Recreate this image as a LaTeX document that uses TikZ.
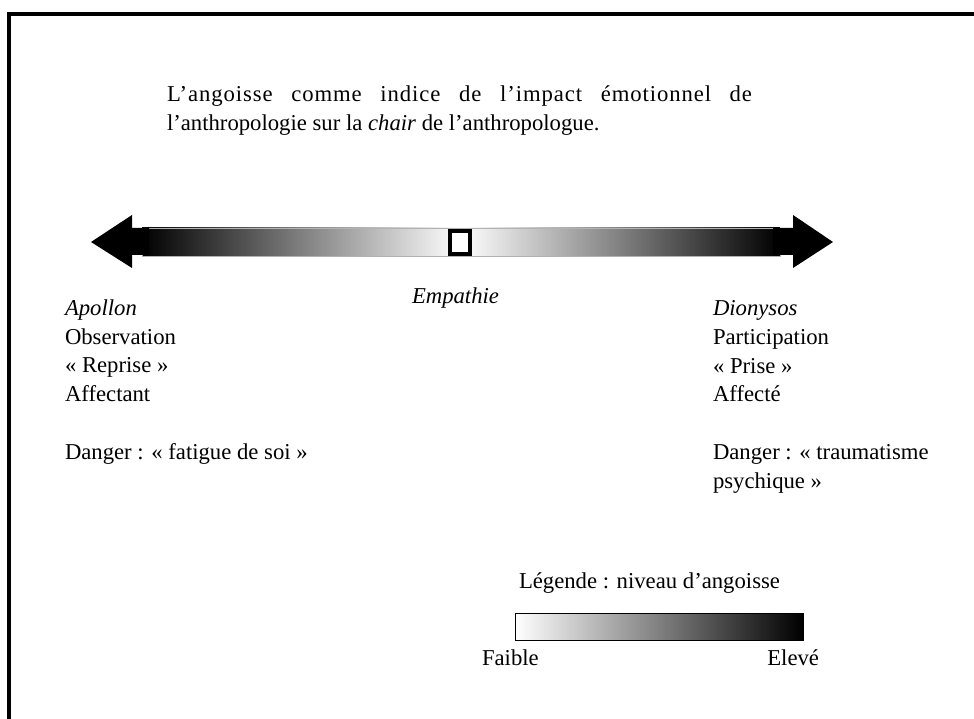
\documentclass[tikz,border=0pt]{standalone}
\usepackage{fontspec}
\setmainfont{Liberation Serif}
\begin{document}
\begin{tikzpicture}[x=1pt,y=-1pt,
  txt/.style={inner sep=0pt, outer sep=0pt, font=\fontsize{22.7}{28.7}\selectfont},
  blocktxt/.style={txt, align=left, anchor=base west},
  arrowhead/.style={fill=black, draw=none}]
\useasboundingbox (0,0) rectangle (974,719);
% frame (top and left edges visible)
\draw[line width=4pt] (980,14) -- (9,14) -- (9,725);
% title
\node[txt, anchor=base west, text width=585pt, align=justify] (title) at (167,102)
  {{\addfontfeatures{LetterSpace=4}L’angoisse comme indice de l’impact émotionnel de}\linebreak l’anthropologie sur la \textit{chair} de l’anthropologue.};
% gradient bar
\shade[left color=black, right color=black, middle color=white, draw=gray!60, line width=0.8pt] (142,228) rectangle (780,256);
\coordinate (barL) at (142,242);
\coordinate (barR) at (780,242);
% arrow heads
\fill[arrowhead] (91,242) -- (132,215) -- (132,228) -- (149,228) -- (149,255) -- (132,255) -- (132,268) -- cycle;
\fill[arrowhead] (833,242) -- (793,215) -- (793,228) -- (773,228) -- (773,255) -- (793,255) -- (793,268) -- cycle;
% center marker
\node[draw=black, fill=white, line width=3.5pt, minimum width=20pt, minimum height=23pt, inner sep=0pt] (marker) at (460,242.5) {};
% labels
\node[txt, anchor=base west] (empathie) at (412,303) {\textit{Empathie}};
\node[blocktxt] (apollon) at (65,459) {\textit{Apollon}\\Observation\\«~Reprise~»\\Affectant\\[28.7pt]Danger : «~fatigue de soi~»};
\node[blocktxt] (dionysos) at (713,488) {\textit{Dionysos}\\Participation\\«~Prise~»\\Affecté\\[28.7pt]Danger : «~traumatisme\\psychique~»};
% legend
\node[txt, anchor=base west] (legende) at (519,588) {Légende : niveau d’angoisse};
\shade[left color=white, right color=black, draw=black, line width=0.6pt] (515,613) rectangle (803,640);
\node[txt, anchor=base west] (faible) at (482,665) {Faible};
\node[txt, anchor=base east] (eleve) at (819,665) {Elevé};
\end{tikzpicture}
\end{document}
